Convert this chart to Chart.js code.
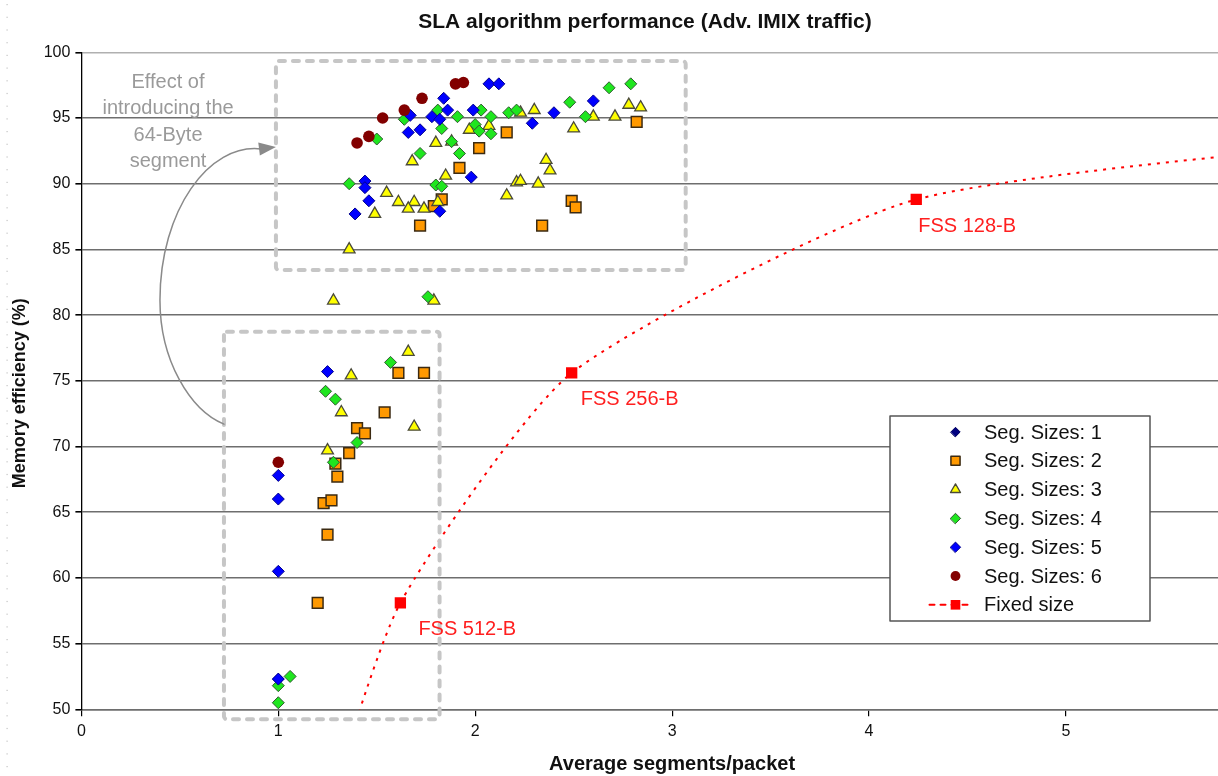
<!DOCTYPE html>
<html>
<head>
<meta charset="utf-8">
<title>SLA algorithm performance</title>
<script src="https://cdn.jsdelivr.net/npm/chart.js@4.4.1/dist/chart.umd.min.js"></script>
<style>
  html, body { margin: 0; padding: 0; background: #fff; overflow: hidden; }
  #wrap { position: relative; width: 1290px; height: 776px; }
</style>
</head>
<body>
<div id="wrap"><canvas id="slaChart"></canvas></div>
<script>
// Series: [average segments/packet, memory efficiency %]
const seriesLabels = ['Seg. Sizes: 1', 'Seg. Sizes: 2', 'Seg. Sizes: 3', 'Seg. Sizes: 4',
                      'Seg. Sizes: 5', 'Seg. Sizes: 6', 'Fixed size'];

const seg1 = [[1.00, 52.3]];

const seg2 = [
  [1.20, 58.1], [1.25, 63.3], [1.23, 65.7], [1.27, 65.9], [1.30, 67.7], [1.29, 68.7],
  [1.36, 69.5], [1.40, 71.4], [1.44, 71.0], [1.54, 72.6], [1.61, 75.6], [1.74, 75.6],
  [1.72, 86.8], [1.79, 88.3], [1.83, 88.8], [1.92, 91.2], [2.02, 92.7], [2.16, 93.9],
  [2.34, 86.8], [2.49, 88.7], [2.51, 88.2], [2.82, 94.7]
];

const seg3 = [
  [1.25, 69.7], [1.32, 72.6], [1.37, 75.4], [1.66, 77.2], [1.69, 71.5], [1.28, 81.1],
  [1.79, 81.1], [1.36, 85.0], [1.49, 87.7], [1.55, 89.3], [1.61, 88.6], [1.69, 88.6],
  [1.66, 88.1], [1.74, 88.1], [1.81, 88.6], [1.85, 90.6], [1.68, 91.7], [1.80, 93.1],
  [1.88, 93.2], [1.97, 94.1], [2.07, 94.4], [2.21, 90.1], [2.23, 90.2], [2.16, 89.1],
  [2.32, 90.0], [2.36, 91.8], [2.38, 91.0], [2.23, 95.4], [2.30, 95.6], [2.50, 94.2],
  [2.60, 95.1], [2.71, 95.1], [2.78, 96.0], [2.84, 95.8]
];

const seg4 = [
  [1.00, 50.5], [1.00, 51.8], [1.06, 52.5], [1.24, 74.2], [1.29, 73.6], [1.28, 68.8],
  [1.40, 70.3], [1.57, 76.4], [1.76, 81.4], [1.36, 90.0], [1.50, 93.4], [1.64, 94.9],
  [1.72, 92.3], [1.80, 89.9], [1.83, 89.8], [1.81, 95.6], [1.83, 94.2], [1.88, 93.2],
  [1.91, 95.1], [1.92, 92.3], [2.00, 94.5], [2.02, 94.0], [2.03, 95.6], [2.08, 95.1],
  [2.08, 93.8], [2.17, 95.4], [2.21, 95.6], [2.48, 96.2], [2.56, 95.1], [2.68, 97.3],
  [2.79, 97.6]
];

const seg5 = [
  [1.00, 67.8], [1.00, 66.0], [1.00, 60.5], [1.00, 52.3], [1.25, 75.7], [1.39, 87.7],
  [1.44, 90.2], [1.44, 89.7], [1.46, 88.7], [1.66, 93.9], [1.72, 94.1], [1.67, 95.2],
  [1.78, 95.1], [1.82, 94.9], [1.86, 95.6], [1.84, 96.5], [1.99, 95.6], [1.98, 90.5],
  [1.82, 87.9], [2.07, 97.6], [2.12, 97.6], [2.29, 94.6], [2.40, 95.4], [2.60, 96.3]
];

const seg6 = [
  [1.00, 68.8], [1.40, 93.1], [1.46, 93.6], [1.53, 95.0], [1.64, 95.6], [1.73, 96.5],
  [1.90, 97.6], [1.94, 97.7]
];

// Fixed segment size curve (first and last points lie outside the visible range)
const fixedX = [1.20, 1.62, 2.49, 4.24, 7.20];
const fixedY = [40.0, 58.1, 75.6, 88.8, 94.2];
const fixedNames = [null, 'FSS 512-B', 'FSS 256-B', 'FSS 128-B', null];

const xTickValues = [0, 1, 2, 3, 4, 5, 6];
const yTickValues = [50, 55, 60, 65, 70, 75, 80, 85, 90, 95, 100];

const noteLines = ['Effect of', 'introducing the', '64-Byte', 'segment'];

const FONT = 'Arial, "Liberation Sans", sans-serif';
Chart.defaults.font.family = FONT;
Chart.defaults.color = '#111';

const toPts = arr => arr.map(p => ({ x: p[0], y: p[1] }));

function scatterSet(i, data, style) {
  return Object.assign({
    type: 'scatter',
    label: seriesLabels[i],
    data: toPts(data),
    order: 10 - i,          // later series sit on top
    showLine: false
  }, style);
}

const datasets = [
  scatterSet(0, seg1, { pointStyle: 'rectRot', pointRadius: 5.5, backgroundColor: '#000080', borderColor: '#000060', borderWidth: 1 }),
  scatterSet(1, seg2, { pointStyle: 'rect', pointRadius: 7.6, backgroundColor: '#ff9900', borderColor: '#3b2a12', borderWidth: 1.5 }),
  scatterSet(2, seg3, { pointStyle: 'triangle', pointRadius: 6.8, backgroundColor: '#ffff00', borderColor: '#4a4a3a', borderWidth: 1.3 }),
  scatterSet(3, seg4, { pointStyle: 'rectRot', pointRadius: 6, backgroundColor: '#1fe61f', borderColor: '#2f5a2f', borderWidth: 1 }),
  scatterSet(4, seg5, { pointStyle: 'rectRot', pointRadius: 6, backgroundColor: '#0000ff', borderColor: '#00008c', borderWidth: 1 }),
  scatterSet(5, seg6, { pointStyle: 'circle', pointRadius: 5.8, backgroundColor: '#820000', borderColor: '#820000', borderWidth: 0 }),
  {
    type: 'line',
    label: seriesLabels[6],
    data: fixedX.map((x, i) => ({ x: x, y: fixedY[i] })),
    order: 0,
    borderColor: '#ff0000',
    borderWidth: 2,
    borderDash: [3, 6],
    tension: 0.2,
    fill: false,
    pointStyle: 'rect',
    pointRadius: 8,
    backgroundColor: '#ff0000',
    pointBorderWidth: 0
  }
];

// Grouping boxes in axis units: [xFrom, xTo, yTop, yBottom]
const groupBoxes = [
  [0.988, 3.069, 99.34, 83.43],
  [0.724, 1.819, 78.74, 49.24]
];

const decorations = {
  id: 'decorations',
  afterDatasetsDraw(chart) {
    const { ctx, chartArea, scales: { x, y } } = chart;
    ctx.save();

    // dashed grey boxes around the two clusters
    ctx.strokeStyle = '#c6c6c6';
    ctx.lineWidth = 4;
    ctx.lineCap = 'round';
    ctx.lineJoin = 'round';
    ctx.setLineDash([6, 8]);
    for (const b of groupBoxes) {
      const l = x.getPixelForValue(b[0]), r = x.getPixelForValue(b[1]);
      const t = y.getPixelForValue(b[2]), bt = y.getPixelForValue(b[3]);
      ctx.beginPath();
      ctx.roundRect(l, t, r - l, bt - t, 3);
      ctx.stroke();
    }
    ctx.setLineDash([]);

    // curved arrow from the lower box to the upper one
    const sx = x.getPixelForValue(groupBoxes[1][0]), sy = y.getPixelForValue(71.7);
    const tx = x.getPixelForValue(groupBoxes[0][0]), ty = y.getPixelForValue(92.8);
    const mx = sx - 64, my = sy - 124;
    const ang = Math.atan2(-8, 66);
    const hl = 17, hw = 6.5;
    const bx = tx - Math.cos(ang) * hl, by = ty - Math.sin(ang) * hl;
    ctx.strokeStyle = '#8a8a8a';
    ctx.lineWidth = 1.5;
    ctx.beginPath();
    ctx.moveTo(sx, sy);
    ctx.bezierCurveTo(sx - 34, sy - 14, mx, my + 60, mx, my);
    ctx.bezierCurveTo(mx, my - 90, bx - 50, by - 6, bx + 2, by);
    ctx.stroke();
    ctx.fillStyle = '#8a8a8a';
    ctx.beginPath();
    ctx.moveTo(tx, ty);
    ctx.lineTo(bx - Math.sin(ang) * hw, by + Math.cos(ang) * hw);
    ctx.lineTo(bx + Math.sin(ang) * hw, by - Math.cos(ang) * hw);
    ctx.closePath();
    ctx.fill();

    // note text
    ctx.font = '20px ' + FONT;
    ctx.fillStyle = '#9a9a9a';
    ctx.textAlign = 'center';
    ctx.textBaseline = 'middle';
    const nx = x.getPixelForValue(0.44);
    noteLines.forEach((s, i) => ctx.fillText(s, nx, chartArea.top + 30.5 + i * 26.1));

    // fixed-size point names
    const fdx = [0, 18, 9, 2, 0];
    ctx.fillStyle = '#ff1f1f';
    ctx.textAlign = 'left';
    fixedNames.forEach((name, i) => {
      if (!name) return;
      ctx.fillText(name, x.getPixelForValue(fixedX[i]) + fdx[i], y.getPixelForValue(fixedY[i]) + 27);
    });

    // legend box
    const L = { left: 890, top: 416, w: 260, h: 205, row0: 432, rowH: 28.8, mark: 955.5, text: 984 };
    ctx.fillStyle = '#fff';
    ctx.fillRect(L.left, L.top, L.w, L.h);
    ctx.strokeStyle = '#555';
    ctx.lineWidth = 1.5;
    ctx.strokeRect(L.left, L.top, L.w, L.h);
    chart.data.datasets.forEach((ds, i) => {
      const ry = L.row0 + i * L.rowH;
      if (ds.type === 'line') {
        ctx.strokeStyle = ds.borderColor;
        ctx.lineWidth = 2;
        ctx.setLineDash([5, 6]);
        ctx.beginPath();
        ctx.moveTo(L.mark - 26, ry);
        ctx.lineTo(L.mark + 18, ry);
        ctx.stroke();
        ctx.setLineDash([]);
      }
      ctx.fillStyle = ds.backgroundColor;
      ctx.strokeStyle = ds.borderColor;
      const bw = ds.type === 'line' ? 0 : ds.borderWidth;
      ctx.lineWidth = bw;
      Chart.helpers.drawPoint(ctx, {
        pointStyle: ds.pointStyle,
        radius: ds.pointRadius * 0.85,
        rotation: 0,
        borderWidth: bw
      }, L.mark, ry);
      ctx.fillStyle = '#111';
      ctx.font = '20px ' + FONT;
      ctx.textAlign = 'left';
      ctx.fillText(ds.label, L.text, ry + 1);
    });

    // faint dotted rule along the left edge
    ctx.fillStyle = '#c4c4c4';
    for (let yy = 4; yy < chart.height; yy += 12.7) ctx.fillRect(6.5, yy, 1.2, 1.2);

    ctx.restore();
  }
};

new Chart(document.getElementById('slaChart'), {
  data: { datasets: datasets },
  options: {
    responsive: true,
    maintainAspectRatio: false,
    animation: false,
    devicePixelRatio: 1,
    layout: { padding: 0 },
    plugins: {
      legend: { display: false },
      tooltip: { enabled: false },
      title: {
        display: true,
        text: 'SLA algorithm performance (Adv. IMIX traffic)',
        font: { size: 21, weight: 'bold' },
        color: '#111',
        padding: { top: 9.5, bottom: 17.6 }
      }
    },
    scales: {
      x: {
        type: 'linear',
        min: xTickValues[0],
        max: xTickValues[xTickValues.length - 1],
        afterBuildTicks: s => { s.ticks = xTickValues.map(v => ({ value: v })); },
        afterFit: s => { s.height = 66.7; },
        grid: { drawOnChartArea: false, drawTicks: true, tickLength: 7, tickColor: '#000', lineWidth: 1.2 },
        border: { display: true, color: '#6e6e6e', width: 1.6 },
        ticks: { font: { size: 16 }, color: '#111', padding: 6 },
        title: {
          display: true,
          text: 'Average segments/packet',
          font: { size: 20, weight: 'bold' },
          color: '#111',
          padding: { top: 0, bottom: 0 }
        }
      },
      y: {
        type: 'linear',
        min: yTickValues[0],
        max: yTickValues[yTickValues.length - 1],
        afterBuildTicks: s => { s.ticks = yTickValues.map(v => ({ value: v })); },
        afterFit: s => { s.width = 81.4; },
        grid: {
          color: c => (c.tick && c.tick.value === 100) ? '#b0b0b0' : '#6e6e6e',
          lineWidth: 1.6,
          tickLength: 6,
          tickColor: '#000'
        },
        border: { display: true, color: '#000', width: 1.3 },
        ticks: { font: { size: 16 }, color: '#111', padding: 5 },
        title: {
          display: true,
          // trailing spaces nudge the rotated title a little lower
          text: 'Memory efficiency (%)\u00a0\u00a0\u00a0\u00a0\u00a0',
          font: { size: 18, weight: 'bold' },
          color: '#111',
          padding: { top: 9, bottom: 0 }
        }
      },
      yRight: {
        type: 'linear',
        position: 'right',
        display: true,
        grid: { display: false },
        border: { display: false },
        ticks: { display: false },
        afterFit: s => { s.width = 27.2; }
      }
    }
  },
  plugins: [decorations]
});
</script>
</body>
</html>
